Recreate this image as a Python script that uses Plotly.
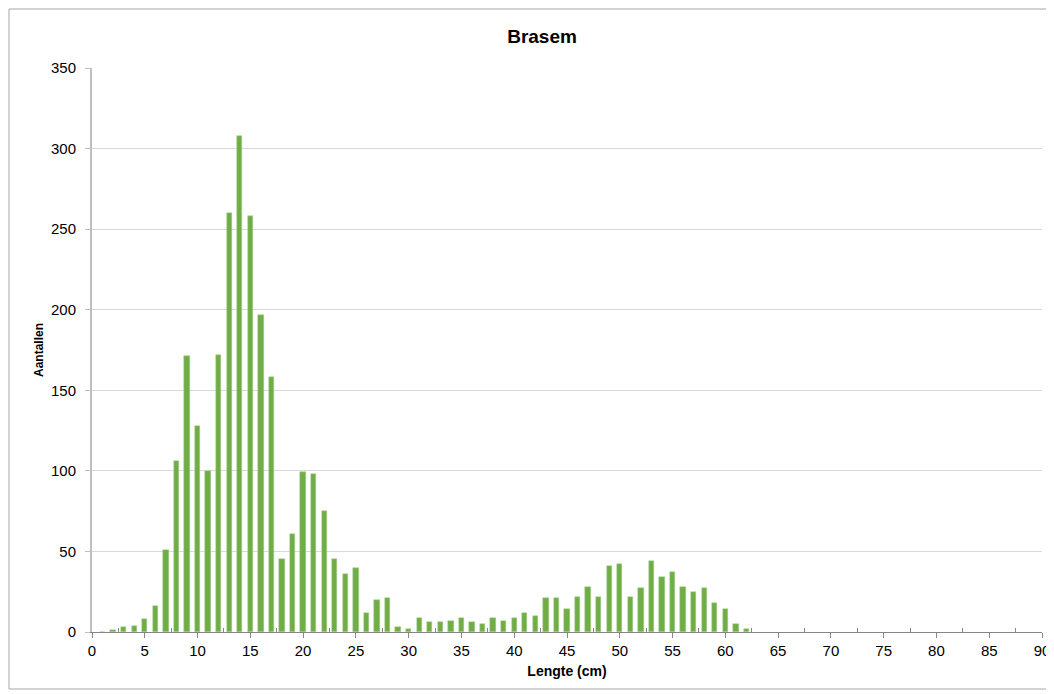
import plotly.graph_objects as go

lengths = list(range(1, 63))
counts = [0, 1, 3, 4, 8, 16, 51, 106, 171, 128,
          100, 172, 260, 308, 258, 197, 158, 45, 61, 99,
          98, 75, 45, 36, 40, 12, 20, 21, 3, 2,
          9, 6, 6, 7, 9, 6, 5, 9, 7, 9,
          12, 10, 21, 21, 14, 22, 28, 22, 41, 42,
          22, 27, 44, 34, 37, 28, 25, 27, 18, 14,
          5, 2]

title_text = "Brasem"
x_title = "Lengte (cm)"
y_title = "Aantallen"

# page is offset by 8px (body margin); the rendered width ends up 8px narrower
OFF = 8
W, H = 1054, 694 - OFF
L, R, T, B = 92 - OFF, 12, 68 - OFF, 62
pw, ph = 950, 564

fig = go.Figure()
fig.add_trace(go.Bar(
    x=lengths, y=counts, width=0.5,
    marker=dict(color="#70AD47", line=dict(color="#A9D18E", width=0.5)),
))

font_family = "Liberation Sans, Arial, sans-serif"
fig.update_layout(
    width=W, height=H, autosize=False,
    margin=dict(l=L, r=R, t=T, b=B),
    paper_bgcolor="white", plot_bgcolor="white",
    showlegend=False,
    font=dict(family=font_family, color="#000000", size=15),
    title=dict(text="<b>" + title_text + "</b>", x=(538 - OFF) / 1046, xref="container",
               y=1 - (36 - OFF) / H, yref="container", xanchor="center", yanchor="middle",
               font=dict(size=19, family=font_family, color="#000000")),
    bargap=0,
)
fig.update_xaxes(
    range=[0, 90], tick0=0, dtick=5, showgrid=False,
    showline=True, linecolor="#868686", linewidth=1,
    ticks="outside", ticklen=5, tickcolor="#868686",
    tickfont=dict(size=15),
    minor=dict(tick0=2.5, dtick=5, ticks="inside", ticklen=4, tickcolor="#868686", showgrid=False),
    title=dict(text="<b>" + x_title + "</b>", font=dict(size=14), standoff=8),
    zeroline=False,
)
fig.update_yaxes(
    range=[0, 350], tick0=0, dtick=50, showgrid=True, gridcolor="#D9D9D9", gridwidth=1,
    showline=True, linecolor="#BFBFBF", linewidth=2,
    ticks="outside", ticklen=5, tickcolor="#BFBFBF",
    tickfont=dict(size=15), ticklabelstandoff=6,
    title=dict(text="<b>" + y_title + "</b>", font=dict(size=12), standoff=5),
    zeroline=False,
)

# outer chart border
fig.add_shape(type="rect", xref="paper", yref="paper",
              x0=(9 - 92) / pw, x1=(1052 - 92) / pw,
              y0=(632 - 689) / ph, y1=(632 - 9) / ph,
              line=dict(color="#A6A6A6", width=1), fillcolor="rgba(0,0,0,0)", layer="below")

fig.write_html("out.html")
